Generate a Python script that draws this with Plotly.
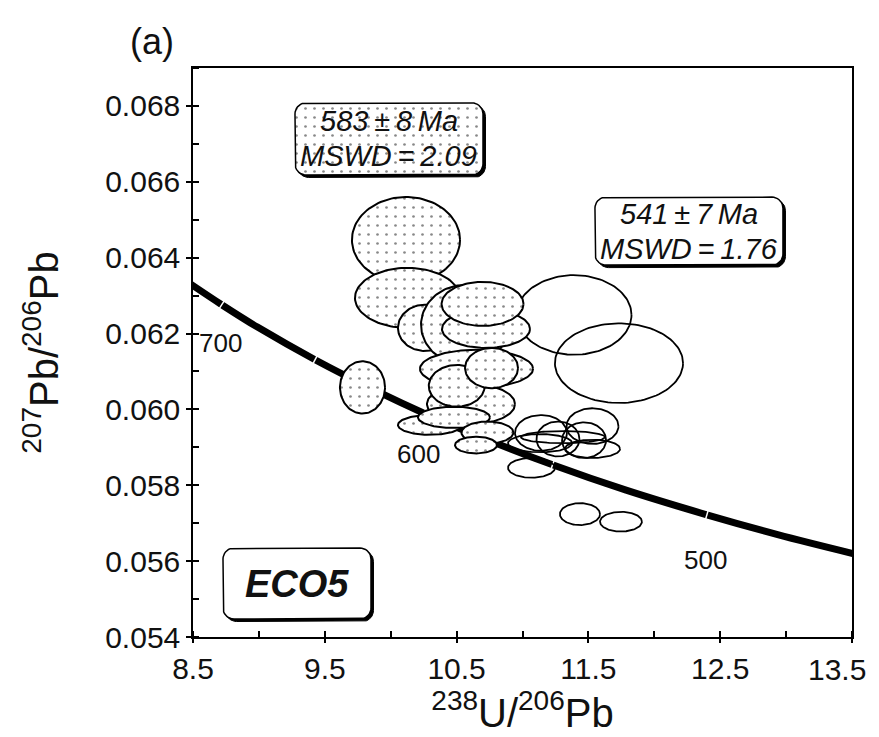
import numpy as np
import plotly.graph_objects as go

# Tera-Wasserburg concordia, age in Ma
conc_age = [720, 700, 680, 650, 620, 600, 575, 550, 525, 500, 480, 460]
conc_x = [8.463, 8.718, 8.989, 9.426, 9.906, 10.252, 10.719, 11.228, 11.786, 12.399, 12.936, 13.520]
conc_y = [0.06335, 0.06276, 0.06217, 0.06131, 0.06046, 0.05990, 0.05922, 0.05854, 0.05787, 0.05722, 0.05670, 0.05619]

# age marks on the curve
tick_age = [700, 650, 600, 550, 500]
tick_x = [8.718, 9.426, 10.252, 11.228, 12.399]
tick_y = [0.06276, 0.06131, 0.05990, 0.05854, 0.05722]

label_txt = ['700', '600', '500']
label_x = [8.71, 10.21, 12.39]
label_y = [0.06176, 0.05882, 0.05603]

# 583 Ma group (dotted ellipses), listed back to front
old_x = [10.116, 10.127, 10.260, 10.564, 10.723, 10.697, 10.651, 10.609, 10.501, 10.765, 10.298, 10.480, 10.734, 10.647, 9.786]
old_y = [0.06447, 0.06294, 0.06215, 0.06223, 0.06212, 0.06278, 0.06107, 0.06014, 0.06062, 0.06109, 0.05959, 0.05979, 0.05939, 0.05906, 0.06058]
old_sx = [0.410, 0.398, 0.205, 0.334, 0.334, 0.311, 0.429, 0.334, 0.212, 0.201, 0.243, 0.273, 0.197, 0.159, 0.171]
old_sy = [0.00113, 0.00079, 0.00061, 0.00105, 0.00050, 0.00058, 0.00050, 0.00053, 0.00055, 0.00053, 0.00026, 0.00028, 0.00029, 0.00022, 0.00069]

# 541 Ma group (open ellipses)
young_x = [11.391, 11.732, 11.140, 11.531, 11.269, 11.467, 11.133, 11.531, 11.307, 11.068, 11.436, 11.747]
young_y = [0.06249, 0.06122, 0.05938, 0.05956, 0.05922, 0.05919, 0.05911, 0.05896, 0.05927, 0.05846, 0.05724, 0.05704]
young_sx = [0.436, 0.486, 0.197, 0.197, 0.163, 0.167, 0.243, 0.209, 0.319, 0.178, 0.152, 0.159]
young_sy = [0.00105, 0.00105, 0.00047, 0.00047, 0.00046, 0.00047, 0.00024, 0.00024, 0.00016, 0.00026, 0.00029, 0.00026]

x_ticks = [8.5, 9.5, 10.5, 11.5, 12.5, 13.5]
x_ticktext = ['8.5', '9.5', '10.5', '11.5', '12.5', '']
x_last_label = '13.5'  # set right-aligned at the edge so it is not clipped

XR = [8.5, 13.5]
YR = [0.054, 0.069]
# page body has an 8px margin, so the figure is a bit smaller than the window
W, H = 871, 729
ML, MR, MT, MB = 185, 27, 60, 100
PX = (XR[1] - XR[0]) / (W - ML - MR)   # data units per pixel
PY = (YR[1] - YR[0]) / (H - MT - MB)

FONT = 'Liberation Sans, Arial, Helvetica, sans-serif'
TS = '\u2009'  # thin space, the box labels are set tight


def ellipse(cx, cy, rx, ry, n=120):
    t = np.linspace(0, 2 * np.pi, n)
    return cx + rx * np.cos(t), cy + ry * np.sin(t)


def rbox(cx, cy, w, h, r, dx=0, dy=0):
    # rounded rectangle, sizes in pixels
    xs, ys = [], []
    hw, hh = w / 2 - r, h / 2 - r
    for sx, sy, a0 in [(1, 1, 0), (-1, 1, 90), (-1, -1, 180), (1, -1, 270)]:
        for a in np.linspace(a0, a0 + 90, 10):
            xs.append(cx + (sx * hw + r * np.cos(np.radians(a)) + dx) * PX)
            ys.append(cy + (sy * hh + r * np.sin(np.radians(a)) - dy) * PY)
    xs.append(xs[0])
    ys.append(ys[0])
    return xs, ys


dots = dict(shape='.', fgcolor='#111111', bgcolor='white', size=9, solidity=0.07)

fig = go.Figure()

# concordia curve
fig.add_trace(go.Scatter(x=conc_x, y=conc_y, mode='lines', line_shape='spline',
                         line=dict(color='black', width=7), hoverinfo='skip'))

# small white age marks across the curve
cpx = np.array(conc_x) / PX
cpy = np.array(conc_y) / PY
slope = np.degrees(np.arctan2(-np.gradient(cpy), np.gradient(cpx)))
ang = np.interp(tick_x, conc_x, slope)
fig.add_trace(go.Scatter(x=tick_x, y=tick_y, mode='markers', hoverinfo='skip',
                         marker=dict(symbol='line-ns', size=7, angle=list(ang),
                                     line=dict(color='white', width=1.5))))

for cx, cy, rx, ry in zip(young_x, young_y, young_sx, young_sy):
    ex, ey = ellipse(cx, cy, rx, ry)
    fig.add_trace(go.Scatter(x=ex, y=ey, mode='lines', hoverinfo='skip',
                             line=dict(color='black', width=1.8)))

for cx, cy, rx, ry in zip(old_x, old_y, old_sx, old_sy):
    ex, ey = ellipse(cx, cy, rx, ry)
    fig.add_trace(go.Scatter(x=ex, y=ey, mode='lines', fill='toself', fillcolor='white',
                             fillpattern=dots, hoverinfo='skip',
                             line=dict(color='black', width=2)))

# label boxes: (centre x, centre y, width px, height px, dotted?)
boxes = [(9.987, 0.06713, 188, 72, True),
         (12.263, 0.06470, 188, 68, False),
         (9.289, 0.05541, 148, 71, False)]
for cx, cy, bw, bh, dotted in boxes:
    sx, sy = rbox(cx, cy, bw, bh, 11, dx=2.5, dy=2.5)
    fig.add_trace(go.Scatter(x=sx, y=sy, mode='lines', fill='toself', fillcolor='black',
                             line=dict(color='black', width=1), hoverinfo='skip'))
    bx, by = rbox(cx, cy, bw, bh, 11)
    fig.add_trace(go.Scatter(x=bx, y=by, mode='lines', fill='toself', fillcolor='white',
                             fillpattern=dots if dotted else None,
                             line=dict(color='black', width=1.5), hoverinfo='skip'))

LS = 35 * PY  # line spacing inside the boxes
ann = [
    dict(x=9.987, y=0.06713 + LS / 2, text=f'<i>583{TS}±{TS}8{TS}Ma</i>', font=dict(size=29)),
    dict(x=9.987, y=0.06713 - LS / 2, text=f'<i>MSWD{TS}={TS}2.09</i>', font=dict(size=29)),
    dict(x=12.263, y=0.06470 + LS / 2, text=f'<i>541{TS}±{TS}7{TS}Ma</i>', font=dict(size=29)),
    dict(x=12.263, y=0.06470 - LS / 2, text=f'<i>MSWD{TS}={TS}1.76</i>', font=dict(size=29)),
    dict(x=9.289, y=0.05541, text='<b><i>ECO5</i></b>', font=dict(size=38)),
]
for t, lx, ly in zip(label_txt, label_x, label_y):
    ann.append(dict(x=lx, y=ly, text=t, font=dict(size=26)))
for a in ann:
    a.update(xref='x', yref='y', showarrow=False, xanchor='center', yanchor='middle')
    a['font'].update(family=FONT, color='#111111')
ann.append(dict(x=-0.062, y=1.046, xref='paper', yref='paper', text='(a)', showarrow=False,
                xanchor='center', yanchor='middle',
                font=dict(family=FONT, size=36, color='#111111')))
ann.append(dict(x=1.0 + 16 / (W - ML - MR), y=-0.057, xref='paper', yref='paper',
                text=x_last_label, showarrow=False, xanchor='right', yanchor='middle',
                font=dict(family=FONT, size=30, color='#111111')))

fig.update_layout(
    width=W, height=H, showlegend=False,
    margin=dict(l=ML, r=MR, t=MT, b=MB, autoexpand=False),
    paper_bgcolor='white', plot_bgcolor='white',
    font=dict(family=FONT, size=30, color='#111111'),
    annotations=ann,
    xaxis=dict(range=XR, tickvals=x_ticks, ticktext=x_ticktext, showgrid=False, zeroline=False,
               showline=True, mirror=True, linecolor='black', linewidth=1.5, automargin=False,
               ticks='outside', ticklen=4, tickwidth=1.5, tickcolor='black',
               minor=dict(ticks='inside', dtick=0.5, tick0=8.5, ticklen=6, tickcolor='black'),
               title=dict(text='<sup>238</sup>U/<sup>206</sup>Pb', font=dict(size=40), standoff=6)),
    yaxis=dict(range=YR, tick0=0.054, dtick=0.002, tickformat='.3f', showgrid=False, zeroline=False,
               showline=True, mirror=True, linecolor='black', linewidth=1.5, automargin=False,
               ticks='outside', ticklen=5, tickwidth=1.5, tickcolor='black',
               minor=dict(ticks='inside', dtick=0.001, tick0=0.054, ticklen=6, tickcolor='black'),
               title=dict(text='<sup>207</sup>Pb/<sup>206</sup>Pb', font=dict(size=40), standoff=34)),
)

fig.write_html('out.html')
